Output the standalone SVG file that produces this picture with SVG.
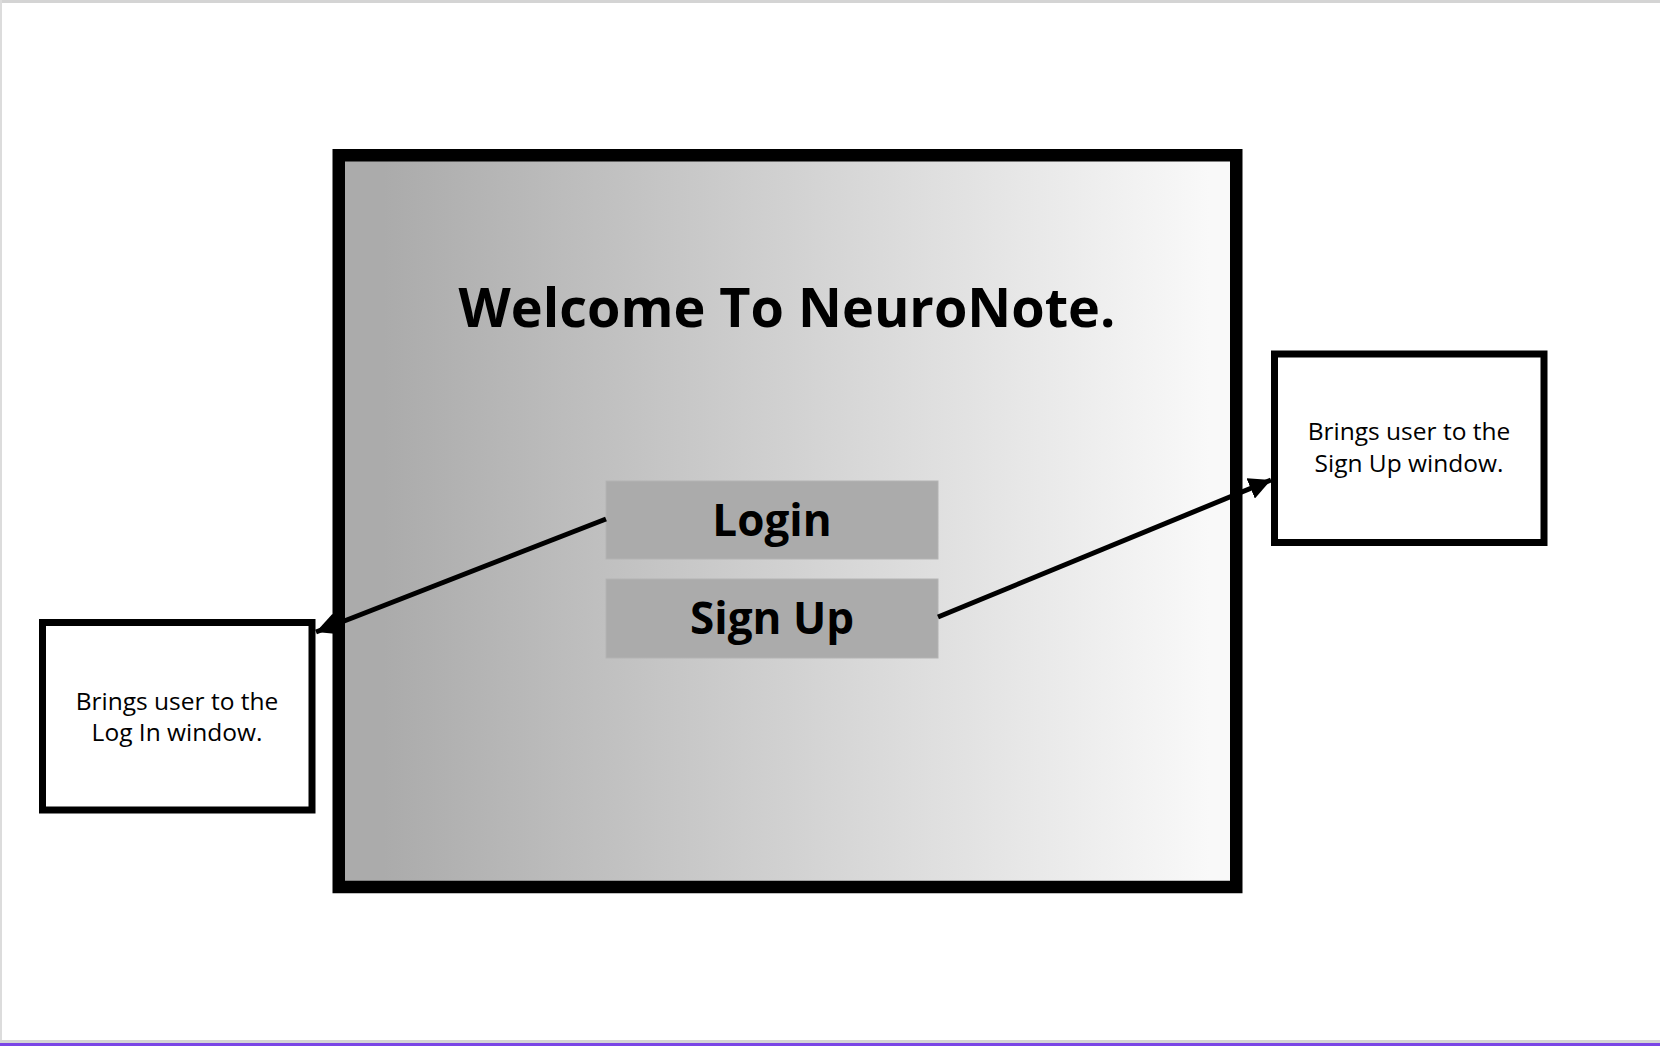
<svg xmlns="http://www.w3.org/2000/svg" width="1660" height="1046" viewBox="0 0 1660 1046">
<defs>
<linearGradient id="bg" x1="0" y1="0" x2="1" y2="0">
<stop offset="0.05" stop-color="#ababab"/>
<stop offset="0.97" stop-color="#f9f9f9"/>
</linearGradient>
<marker id="ah" markerUnits="userSpaceOnUse" markerWidth="24" markerHeight="22" refX="22" refY="11" orient="auto">
<path d="M0,0 L22,11 L0,22 Z" fill="#000"/>
</marker>
<style>
.btn{fill:#ababab;stroke:#b3b3b3;stroke-width:1}
.btxt{font-family:"Open Sans","Noto Sans",sans-serif;font-weight:700;font-size:44px;fill:#000;text-anchor:middle}
.note{fill:#fff;stroke:#000;stroke-width:7}
.ntxt{font-family:"Open Sans","Noto Sans",sans-serif;font-size:24.5px;fill:#000;text-anchor:middle}
.conn{stroke:#000;stroke-width:5;fill:none;marker-end:url(#ah)}
</style>
</defs>
<rect x="0" y="0" width="1660" height="1046" fill="#fff"/>
<rect x="0" y="0" width="1660" height="3" fill="#d4d4d4"/>
<rect x="0" y="0" width="2" height="1042" fill="#dcdcdc"/>
<rect x="0" y="1040" width="1660" height="3" fill="#d4d4d4"/>
<rect x="0" y="1043" width="1660" height="3" fill="#7a45e6"/>
<g id="frame">
<rect x="338.75" y="155.25" width="897.5" height="731.75" fill="url(#bg)" stroke="#000" stroke-width="12.5"/>
<text x="787" y="327" font-family="'Open Sans','Noto Sans',sans-serif" font-weight="700" font-size="54" text-anchor="middle" fill="#000">Welcome To NeuroNote.</text>
</g>
<g id="login">
<rect class="btn" x="606" y="481" width="332" height="78"/>
<text class="btxt" x="772" y="536">Login</text>
</g>
<g id="signup">
<rect class="btn" x="606" y="579" width="332" height="79"/>
<text class="btxt" x="772" y="634">Sign Up</text>
</g>
<g id="note-login">
<rect class="note" x="42.5" y="622.5" width="269.5" height="187.5"/>
<text class="ntxt" x="177" y="710">Brings user to the</text>
<text class="ntxt" x="177" y="741">Log In window.</text>
</g>
<g id="note-signup">
<rect class="note" x="1274.5" y="354" width="269.5" height="188.5"/>
<text class="ntxt" x="1409" y="440">Brings user to the</text>
<text class="ntxt" x="1409" y="472">Sign Up window.</text>
</g>
<g id="connectors">
<line class="conn" x1="606" y1="519" x2="316" y2="632"/>
<line class="conn" x1="938" y1="617" x2="1271" y2="480"/>
</g>
</svg>
